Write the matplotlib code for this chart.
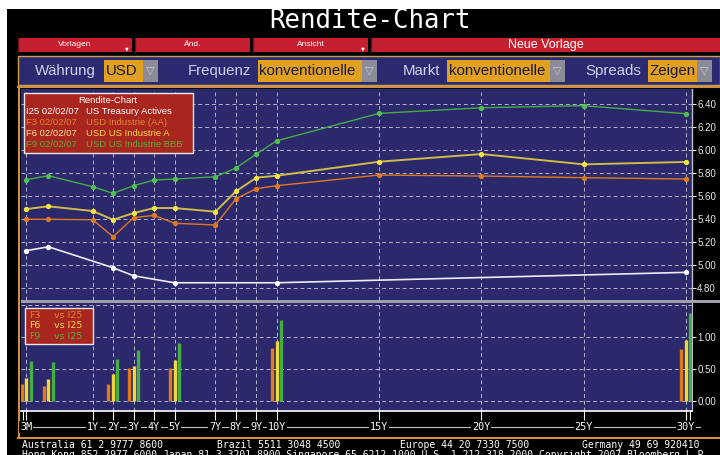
import matplotlib
matplotlib.use('Agg')
import matplotlib.pyplot as plt
import matplotlib.transforms as mtransforms
from matplotlib.patches import Rectangle
import numpy as np

# ---------------- data ----------------
f_tenors = [0.25, 0.5, 1, 2, 3, 4, 5, 7, 8, 9, 10, 15, 20, 25, 30]
f3_yield = [5.397, 5.397, 5.393, 5.245, 5.411, 5.431, 5.362, 5.347, 5.576, 5.664, 5.690, 5.783, 5.774, 5.760, 5.748]
f6_yield = [5.486, 5.510, 5.469, 5.393, 5.451, 5.495, 5.495, 5.463, 5.641, 5.760, 5.777, 5.899, 5.966, 5.876, 5.897]
f9_yield = [5.742, 5.777, 5.681, 5.623, 5.690, 5.739, 5.748, 5.768, 5.844, 5.966, 6.082, 6.321, 6.370, 6.388, 6.318]
i25_tenors = [0.25, 0.5, 2, 3, 5, 10, 30]
i25_yield = [5.123, 5.157, 4.974, 4.904, 4.843, 4.843, 4.934]
spread_f3 = [0.27, 0.24, 0.27, 0.515, 0.515, 0.835, 0.815]
spread_f6 = [0.36, 0.35, 0.43, 0.55, 0.65, 0.94, 0.955]
spread_f9 = [0.635, 0.62, 0.665, 0.80, 0.915, 1.27, 1.37]
tick_tenors = [0.25, 1, 2, 3, 4, 5, 7, 8, 9, 10, 15, 20, 25, 30]
tick_labels = ['3M', '1Y', '2Y', '3Y', '4Y', '5Y', '7Y', '8Y', '9Y', '10Y', '15Y', '20Y', '25Y', '30Y']
upper_yticks = [4.80, 5.00, 5.20, 5.40, 5.60, 5.80, 6.00, 6.20, 6.40]
lower_yticks = [0.00, 0.50, 1.00]

C_BLUE = '#2b286c'
C_OR = '#e07a1c'
C_YE = '#f0d838'
C_GR = '#44ae44'
C_WH = '#ececf4'
C_RED = '#a8261e'
C_GOLD = '#d09040'

W, H = 720, 455
fig = plt.figure(figsize=(W / 100, H / 100), dpi=100, facecolor='white')

def fbox(x0, y0, x1, y1):
    return [x0 / W, 1 - y1 / H, (x1 - x0) / W, (y1 - y0) / H]

def pixel_axes(z):
    a = fig.add_axes([0, 0, 1, 1])
    a.set_xlim(0, W)
    a.set_ylim(H, 0)
    a.axis('off')
    a.set_zorder(z)
    a.patch.set_alpha(0)
    return a

# background axes in pixel coordinates
bg = pixel_axes(0)

def rect(ax, x, y, w, h, fc, ec='none', lw=0, z=1):
    ax.add_patch(Rectangle((x, y), w, h, facecolor=fc, edgecolor=ec, linewidth=lw, zorder=z))

rect(bg, 7, 9, W - 7, H - 9, 'black', z=0)

# title
bg.text(370, 21, 'Rendite-Chart', color='white', family='DejaVu Sans Mono',
        fontsize=18.5, ha='center', va='center', zorder=3)

# buttons row
btns = [(18, 114, 'Vorlagen', 6, True), (135, 115, 'Änd.', 6, False),
        (253, 115, 'Ansicht', 6, True), (371, 349, 'Neue Vorlage', 9, False)]
for x, w, lab, fs, tri in btns:
    rect(bg, x, 38, w, 14, '#c42030', z=2)
    bg.plot([x, x], [38, 52], color='#701018', lw=1, zorder=3)
    bg.text(x + w / 2, 45, lab, color='white', family='Liberation Sans', fontsize=fs,
            ha='center', va='center', zorder=3)
    if tri:
        bg.text(x + w - 5, 49, '▼', color='white', family='DejaVu Sans', fontsize=3.5,
                ha='center', va='center', zorder=3)

# control bar
rect(bg, 18, 56, W - 18, 29, '#2b2a70', ec='#c8a050', lw=1, z=2)
ctrl_labels = [(35, 'Währung'), (188, 'Frequenz'), (403, 'Markt'), (585, 'Spreads')]
for x, lab in ctrl_labels:
    bg.text(x, 71, lab, color='#d0d0ea', family='Liberation Sans', fontsize=10.8,
            ha='left', va='center', zorder=3)
ctrl_boxes = [(104, 39, 'USD'), (258, 104, 'konventionelle'), (447, 103, 'konventionelle'), (648, 49, 'Zeigen')]
for x, w, lab in ctrl_boxes:
    rect(bg, x, 60, w, 22, '#e0a020', z=3)
    bg.text(x + 1.5, 71, lab, color='#1a1840', family='Liberation Sans', fontsize=10.8,
            ha='left', va='center', zorder=4)
    rect(bg, x + w, 60, 15, 22, '#8c8c98', z=3)
    bg.text(x + w + 7.5, 70, '▽', color='#c8c8d4', family='DejaVu Sans', fontsize=8,
            ha='center', va='center', zorder=4)

# chart frame
bg.plot([18, W], [87, 87], color=C_GOLD, lw=1.5, zorder=2)
bg.plot([19, 19], [87, 437], color=C_GOLD, lw=1.5, zorder=2)
bg.plot([18, W], [437.5, 437.5], color=C_GOLD, lw=1.5, zorder=2)
rect(bg, 21, 300, W - 21, 3, '#a0a0a8', z=2)
bg.plot([21, 700], [427, 427], color='#c0c0c0', lw=0.8, zorder=2)

# footer
foot_kw = dict(color='white', family='DejaVu Sans Mono', fontsize=7, ha='left', va='center', zorder=3)
bg.text(22, 445, 'Australia 61 2 9777 8600', **foot_kw)
bg.text(217, 445, 'Brazil 5511 3048 4500', **foot_kw)
bg.text(400, 445, 'Europe 44 20 7330 7500', **foot_kw)
bg.text(582, 445, 'Germany 49 69 920410', **foot_kw)
bg.text(22, 455.5, 'Hong Kong 852 2977 6000 Japan 81 3 3201 8900 Singapore 65 6212 1000 U.S. 1 212 318 2000 Copyright 2007 Bloomberg L.P.',
        **foot_kw)

# ---------------- x scale ----------------
K = 88.5 / 20.46

def fwd(t):
    t = np.asarray(t, dtype=float)
    return np.where(t < 1, 1 - (1 - t) * K, t)

def inv(s):
    s = np.asarray(s, dtype=float)
    return np.where(s < 1, 1 - (1 - s) / K, s)

XLIM = (0.19, 30.28)
grid_kw = dict(color='#b4b4cc', linestyle=(0, (4, 3)), linewidth=0.7)

# ---------------- upper panel ----------------
ax1 = fig.add_axes(fbox(21, 89, 691.7, 300))
ax1.set_zorder(1)
ax1.set_facecolor(C_BLUE)
ax1.set_xscale('function', functions=(fwd, inv))
ax1.set_xlim(*XLIM)
ax1.set_ylim(4.6927, 6.5335)
ax1.set_xticks(tick_tenors)
ax1.set_xticklabels([])
ax1.tick_params(axis='x', length=0)
ax1.yaxis.tick_right()
ax1.set_yticks(upper_yticks)
ax1.set_yticklabels([f'{v:.2f}' for v in upper_yticks])
ax1.tick_params(axis='y', colors='#e8e8e8', length=3, width=0.8, pad=1, labelsize=7)
for lab in ax1.get_yticklabels():
    lab.set_family('Liberation Sans')
ax1.grid(True, **grid_kw)
ax1.set_axisbelow(True)
for s in ['top', 'left', 'bottom']:
    ax1.spines[s].set_visible(False)
ax1.spines['right'].set_color('#c0c0c8')
ax1.spines['right'].set_linewidth(1)

ax1.plot(i25_tenors, i25_yield, color=C_WH, lw=1.2, marker='o', ms=2.8, mfc='white', mec='white', zorder=3)
ax1.plot(f_tenors, f3_yield, color=C_OR, lw=1.0, marker='o', ms=2.8, mfc=C_OR, mec=C_OR, zorder=3)
ax1.plot(f_tenors, f6_yield, color='#d0bc48', lw=1.4, marker='o', ms=2.8, mfc='#f4e440', mec='#f4e440', zorder=4)
ax1.plot(f_tenors, f9_yield, color=C_GR, lw=1.0, marker='o', ms=2.8, mfc='#50c050', mec='#50c050', zorder=3)

# ---------------- lower panel ----------------
ax2 = fig.add_axes(fbox(21, 303, 691.7, 411))
ax2.set_zorder(1)
ax2.set_facecolor(C_BLUE)
ax2.set_xscale('function', functions=(fwd, inv))
ax2.set_xlim(*XLIM)
ax2.set_ylim(-0.148, 1.531)
ax2.set_xticks(tick_tenors)
ax2.set_xticklabels(tick_labels)
ax2.set_xticks([XLIM[0] + 0.02, 30.2], minor=True)
ax2.tick_params(axis='x', which='both', length=6.5, width=0.8, color='white', pad=1.2,
                labelsize=7.3, labelcolor='white')
for lab in ax2.get_xticklabels():
    lab.set_family('DejaVu Sans Mono')
    lab.set_bbox(dict(facecolor='black', edgecolor='none', pad=0.6))
ax2.yaxis.tick_right()
ax2.set_yticks(lower_yticks)
ax2.set_yticklabels([f'{v:.2f}' for v in lower_yticks])
ax2.tick_params(axis='y', colors='#e8e8e8', length=3, width=0.8, pad=1, labelsize=7)
for lab in ax2.get_yticklabels():
    lab.set_family('Liberation Sans')
ax2.grid(True, **grid_kw)
ax2.axhline(1.5, **grid_kw, zorder=0.5)
ax2.set_axisbelow(True)
for s in ['top', 'left']:
    ax2.spines[s].set_visible(False)
ax2.spines['right'].set_color('#c0c0c8')
ax2.spines['bottom'].set_color('white')
ax2.spines['bottom'].set_linewidth(1.2)

for vals, col, dx in [(spread_f3, C_OR, -4.7), (spread_f6, C_YE, 0.0), (spread_f9, C_GR, 4.3)]:
    tr = mtransforms.offset_copy(ax2.transData, fig=fig, x=dx, y=0, units='dots')
    ax2.vlines(i25_tenors, 0, vals, colors=col, lw=2.4, transform=tr, zorder=3,
               capstyle='butt')

# ---------------- legends (overlay) ----------------
ov = pixel_axes(5)

def legend_rect(x, y, w, h):
    ov.add_patch(Rectangle((x, y), w, h, facecolor=C_RED, edgecolor='#e8e8e8', linewidth=1, zorder=5))

legend_rect(24, 93, 169, 60)
ov.text(108, 100.5, 'Rendite-Chart', color='white', family='Liberation Sans', fontsize=6.8,
        ha='center', va='center', zorder=6)
leg_rows = [('I25 02/02/07', 'US Treasury Actives', 'white', 'white'),
            ('F3 02/02/07', 'USD Industrie (AA)', '#e08430', '#e08430'),
            ('F6 02/02/07', 'USD US Industrie A', '#f8e8a0', '#f4d840'),
            ('F9 02/02/07', 'USD US Industrie BBB', '#4cb040', '#4cb040')]
for i, (a, b, ca, cb) in enumerate(leg_rows):
    y = 111.7 + i * 11
    ov.text(26, y, a, color=ca, family='Liberation Sans', fontsize=6.8, ha='left', va='center', zorder=6)
    ov.text(86, y, b, color=cb, family='Liberation Sans', fontsize=6.8, ha='left', va='center', zorder=6)

legend_rect(25, 308, 68, 36)
low_rows = [('F3', '#e08430'), ('F6', '#f4d840'), ('F9', '#4cb040')]
for i, (a, c) in enumerate(low_rows):
    y = 315 + i * 10.8
    ov.text(29, y, a, color=c, family='DejaVu Sans', fontsize=6.8, ha='left', va='center', zorder=6)
    ov.text(54, y, 'vs I25', color=c, family='DejaVu Sans', fontsize=6.8, ha='left', va='center', zorder=6)

fig.savefig('out.png', dpi=100, facecolor='white')
